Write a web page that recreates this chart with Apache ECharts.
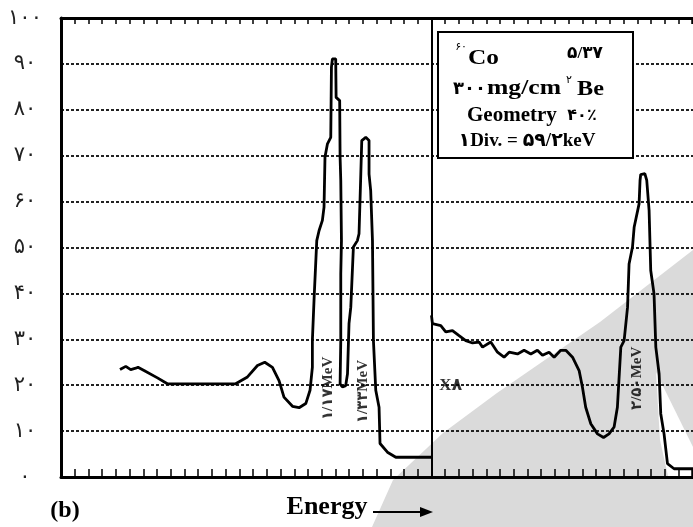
<!DOCTYPE html>
<html><head><meta charset="utf-8">
<script src="https://cdn.jsdelivr.net/npm/echarts@6/dist/echarts.min.js"></script>
<style>html,body{margin:0;padding:0;background:#fff}#c{width:693px;height:527px}</style>
</head><body><div id="c"></div>
<script>
// y ticks
const yTickLabels = ['۰','۱۰','۲۰','۳۰','۴۰','۵۰','۶۰','۷۰','۸۰','۹۰','۱۰۰'];
// x in divisions (1 Div = 59.2 keV), y in relative counts
const leftChannels = [3.30,3.72,4.08,4.45,4.61,5.05,6.03,6.75,11.73,12.59,13.32,13.85,14.41,14.89,15.25,15.87,16.35,16.84,17.15,17.32,17.32,17.45,17.64,17.81,18.05,18.17,18.24,18.42,18.66,18.71,18.78,19.02,19.05,19.31,19.34,19.39,19.44,19.39,19.39,19.34,19.51,19.75,19.88,19.99,20.12,20.31,20.60,20.72,20.85,20.92,21.21,21.45,21.45,21.57,21.70,21.77,21.94,22.18,22.25,22.79,23.40,25.83,26.0];
const leftCounts   = [23.4,24.1,23.4,23.7,23.9,23.2,21.6,20.3,20.3,21.8,24.3,25.0,23.9,21.0,17.4,15.4,15.1,16.0,18.9,23.9,29.7,39.2,51.5,53.7,55.9,58.8,69.7,72.6,74.0,89.3,91.1,91.1,82.7,82.0,69.7,64.6,51.5,44.3,29.7,20.3,19.6,19.9,22.5,33.4,37.0,50.1,51.5,53.0,66.0,73.3,74.0,73.3,66.0,62.4,51.5,29.7,18.9,15.2,7.3,5.4,4.3,4.3,4.3];
const rightChannels = [26.0,26.07,26.68,27.04,27.53,28.01,28.50,28.99,29.47,29.72,30.32,30.81,31.29,31.66,32.27,32.75,33.24,33.72,34.09,34.57,34.94,35.42,35.79,36.28,36.76,37.00,37.24,37.61,38.10,38.54,38.94,39.31,39.55,39.80,40.04,40.29,40.40,40.65,40.77,41.13,41.20,41.25,41.55,41.69,41.86,41.98,42.22,42.35,42.59,42.71,42.95,43.20,43.68,46.0];
const rightCounts   = [35.2,33.4,33.0,31.6,31.9,30.8,29.7,29.2,29.4,28.3,29.4,27.2,26.1,27.2,26.8,27.6,26.8,27.6,26.5,27.2,26.1,27.6,27.6,26.1,23.2,19.6,15.2,11.6,9.4,8.6,9.4,10.9,15.2,28.3,29.7,37.0,46.4,50.1,54.4,59.5,64.6,65.9,66.1,64.6,58.1,45.0,39.9,28.3,22.5,13.8,9.4,2.9,1.8,1.8];
const dividerChannel = 26;
// annotations
const peakLabelTexts = ['۱/۱۷MeV','۱/۳۳MeV','۲/۵۰MeV'];
const peakLabelX = [18.45, 21.05, 41.0];
const peakLabelY = [19.3, 18.6, 21.5];
const scaleLabelText = 'X۸';
const scaleLabelX = 27.4, scaleLabelY = 19.9;

const SERIF = "'Liberation Serif','DejaVu Serif','DejaVu Sans',serif";
const chart = echarts.init(document.getElementById('c'), null, {renderer:'canvas'});

const xCommon = {
  type:'value', min:-1, max:45.06, interval:1,
  axisLabel:{show:false}, splitLine:{show:false},
  axisLine:{show:true, onZero:false, lineStyle:{color:'#000', width:3}},
  axisTick:{show:true, inside:true, length:8, lineStyle:{color:'#000', width:1.5}}
};

const labelData = peakLabelTexts.map((t,i)=>({name:t, value:[peakLabelX[i], peakLabelY[i]]}))
  .concat([{name:scaleLabelText, value:[scaleLabelX, scaleLabelY], label:{rotate:0, fontSize:17}}]);

const txt = (x,y,text,font,align,sx) => ({type:'text', z:101, x:x, y:y, scaleX:sx||1,
  style:{text:text, font:font, fill:'#000', align:align||'center', verticalAlign:'middle'}});

chart.setOption({
  animation:false,
  backgroundColor:'#fff',
  grid:{left:61, right:0, top:18, bottom:50, containLabel:false},
  xAxis:[
    Object.assign({}, xCommon, {position:'bottom'}),
    Object.assign({}, xCommon, {position:'top', axisTick:{show:true, inside:true, length:6, lineStyle:{color:'#000', width:1.5}}})
  ],
  yAxis:{
    type:'value', min:0, max:100, interval:10,
    axisLine:{show:true, onZero:false, lineStyle:{color:'#000', width:3}},
    axisTick:{show:false},
    axisLabel:{show:true, align:'center', margin:36, color:'#222', fontSize:21, fontFamily:SERIF,
      formatter:function(v){return yTickLabels[Math.round(v/10)];}},
    splitLine:{show:true, lineStyle:{color:'#222', width:1.8, type:[3,2]}}
  },
  graphic:{elements:[
    {type:'polygon', z:-10, silent:true, shape:{points:[[693,250],[600,322],[497,393],[443,433],[393,480],[372,527],[693,527]]}, style:{fill:'#dadada'}},
    {type:'polygon', z:-9, silent:true, shape:{points:[[656,372],[693,447],[693,476],[668,476],[660,440]]}, style:{fill:'#ffffff'}},
    {type:'rect', z:100, shape:{x:438, y:32, width:195, height:126}, style:{fill:'#fff', stroke:'#000', lineWidth:2}},
    txt(467,47,'۶۰','11px '+SERIF,'right'),
    txt(468,58,'Co','bold 22px '+SERIF,'left',1.15),
    txt(585,54,'۵/۳۷','bold 17px '+SERIF),
    txt(486,89,'۳۰۰','bold 18px '+SERIF,'right'),
    txt(487,89,'mg/cm','bold 21px '+SERIF,'left',1.22),
    txt(569,80,'۲','11px '+SERIF),
    txt(577,89,'Be','bold 22px '+SERIF,'left',1.1),
    txt(467,116,'Geometry','bold 21px '+SERIF,'left'),
    txt(582,116,'۴۰٪','bold 16px '+SERIF),
    txt(527,141,'۱Div. = ۵۹/۲keV','bold 19px '+SERIF),
    txt(65,511,'(b)','bold 24px '+SERIF),
    txt(327,507,'Energy','bold 26px '+SERIF),
    {type:'line', z:101, shape:{x1:373, y1:512, x2:424, y2:512}, style:{stroke:'#000', lineWidth:2}},
    {type:'polygon', z:101, shape:{points:[[433,512],[420,507],[420,517]]}, style:{fill:'#000'}}
  ]},
  series:[
    {type:'line', name:'left', data:leftChannels.map((c,i)=>[c,leftCounts[i]]),
     symbol:'none', smooth:false, lineStyle:{color:'#000', width:2.8}, z:5,
     markLine:{silent:true, symbol:['none','none'], label:{show:false},
       lineStyle:{color:'#000', width:2, type:'solid'}, data:[{xAxis:dividerChannel}]}},
    {type:'line', name:'right', data:rightChannels.map((c,i)=>[c,rightCounts[i]]),
     symbol:'none', smooth:false, lineStyle:{color:'#000', width:2.8}, z:5},
    {type:'scatter', symbolSize:0, z:6, data:labelData,
     label:{show:true, position:'inside', formatter:'{b}', color:'#000', fontFamily:SERIF, fontWeight:'bold', fontSize:15, rotate:90}}
  ]
});
</script></body></html>
